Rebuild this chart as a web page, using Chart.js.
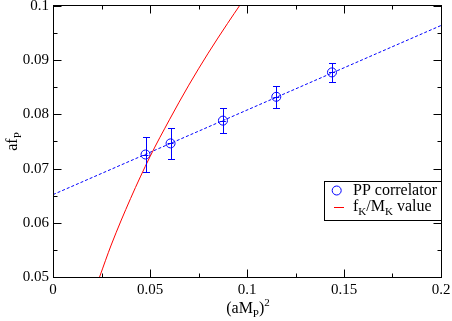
<!DOCTYPE html>
<html>
<head>
<meta charset="utf-8">
<script src="https://cdn.jsdelivr.net/npm/chart.js@4"></script>
<style>
  html, body { margin: 0; padding: 0; background: #fff; }
  canvas { display: block; }
</style>
</head>
<body>
<canvas id="c" width="452" height="321"></canvas>
<script>
// ---- data ----
const pointX = [0.0477, 0.0606, 0.0876, 0.1151, 0.1438];
const pointY = [0.0726, 0.07465, 0.07885, 0.08325, 0.08775];
const pointYErr = [0.0033, 0.00285, 0.00235, 0.00205, 0.00175];
const pointXErr = [0.0015, 0.0015, 0.0015, 0.0015, 0.0015];

const fitX = [0.0, 0.2];
const fitY = [0.0652, 0.0964];

const curveX = [0.024, 0.030, 0.040, 0.050, 0.060, 0.070, 0.080, 0.090, 0.097];
const curveY = [0.0500, 0.0559, 0.0645, 0.0722, 0.0790, 0.0854, 0.0913, 0.0968, 0.1005];

const xTickStep = 0.05, yTickStep = 0.01;
const xRange = [0, 0.2], yRange = [0.05, 0.1];

const legendLabels = ['PP correlator', 'fK/MK value'];
const xTitle = [['(aM', 0], ['P', -1], [')', 0], ['2', 1]];
const yTitle = [['af', 0], ['P', -1]];
const legend2 = [['f', 0], ['K', -1], ['/M', 0], ['K', -1], [' value', 0]];

const FONT = '"Liberation Serif", "Times New Roman", serif';
const BLUE = '#0000ff', RED = '#ff0000';

function fmt(v) { return String(+v.toFixed(4)); }

function richWidth(ctx, parts, size, small) {
  let w = 0;
  for (const [t, s] of parts) {
    ctx.font = (s === 0 ? size : small) + 'px ' + FONT;
    w += ctx.measureText(t).width;
  }
  return w;
}
function drawRich(ctx, parts, x, y, size, small) {
  let cx = x;
  for (const [t, s] of parts) {
    ctx.font = (s === 0 ? size : small) + 'px ' + FONT;
    const dy = s < 0 ? size * 0.28 : (s > 0 ? -size * 0.45 : 0);
    ctx.fillText(t, cx, y + dy);
    cx += ctx.measureText(t).width;
  }
}

const decor = {
  id: 'decor',
  afterDatasetsDraw(chart) {
    const ctx = chart.ctx;
    const xs = chart.scales.x, ys = chart.scales.y;
    const a = chart.chartArea;
    ctx.save();
    // error bars
    ctx.strokeStyle = BLUE; ctx.lineWidth = 1;
    for (let i = 0; i < pointX.length; i++) {
      const px = Math.round(xs.getPixelForValue(pointX[i])) + 0.5;
      const py = ys.getPixelForValue(pointY[i]);
      const t = Math.round(ys.getPixelForValue(pointY[i] + pointYErr[i])) + 0.5;
      const b = Math.round(ys.getPixelForValue(pointY[i] - pointYErr[i])) + 0.5;
      const l = xs.getPixelForValue(pointX[i] - pointXErr[i]);
      const r = xs.getPixelForValue(pointX[i] + pointXErr[i]);
      ctx.beginPath();
      ctx.moveTo(px, t); ctx.lineTo(px, b);
      ctx.moveTo(px - 3.5, t); ctx.lineTo(px + 3.5, t);
      ctx.moveTo(px - 3.5, b); ctx.lineTo(px + 3.5, b);
      ctx.moveTo(l, Math.round(py) + 0.5); ctx.lineTo(r, Math.round(py) + 0.5);
      ctx.stroke();
    }
    // frame
    ctx.strokeStyle = '#000'; ctx.lineWidth = 1;
    const L = a.left + 0.5, R = a.right + 0.5, T = a.top - 0.5, B = a.bottom + 0.5;
    ctx.strokeRect(L, T, R - L, B - T);
    // ticks (major + minor) on all four sides
    ctx.beginPath();
    const xt = xs.ticks.map(t => t.value);
    const yt = ys.ticks.map(t => t.value);
    const xMinor = [], yMinor = [];
    for (let i = 0; i < xt.length - 1; i++) xMinor.push((xt[i] + xt[i + 1]) / 2);
    for (let i = 0; i < yt.length - 1; i++) yMinor.push((yt[i] + yt[i + 1]) / 2);
    function xTick(v, len) {
      const p = Math.round(xs.getPixelForValue(v)) + 0.5;
      ctx.moveTo(p, B); ctx.lineTo(p, B - len);
      ctx.moveTo(p, T); ctx.lineTo(p, T + len);
    }
    function yTick(v, len) {
      const p = Math.round(ys.getPixelForValue(v)) + 0.5;
      ctx.moveTo(L, p); ctx.lineTo(L + len, p);
      ctx.moveTo(R, p); ctx.lineTo(R - len, p);
    }
    xt.forEach(v => xTick(v, 8)); xMinor.forEach(v => xTick(v, 4));
    yt.forEach(v => yTick(v, 8)); yMinor.forEach(v => yTick(v, 4));
    ctx.stroke();

    // axis titles
    ctx.fillStyle = '#000';
    ctx.textBaseline = 'alphabetic';
    const cxT = (a.left + a.right) / 2;
    const w = richWidth(ctx, xTitle, 16, 11);
    drawRich(ctx, xTitle, cxT - w / 2 + 1, 313, 16, 11);
    ctx.save();
    ctx.translate(17, (a.top + a.bottom) / 2);
    ctx.rotate(-Math.PI / 2);
    const wy = richWidth(ctx, yTitle, 16, 11);
    drawRich(ctx, yTitle, -wy / 2, 0, 16, 11);
    ctx.restore();

    // legend
    const lx = 324.5, ly = 181.5, lw = R - lx, lh = 39;
    ctx.fillStyle = '#fff';
    ctx.fillRect(lx, ly, lw, lh);
    ctx.strokeStyle = '#000';
    ctx.strokeRect(lx, ly, lw, lh);
    ctx.strokeStyle = BLUE;
    ctx.beginPath(); ctx.arc(336.7, 190.5, 4.5, 0, Math.PI * 2); ctx.stroke();
    ctx.strokeStyle = RED;
    ctx.beginPath(); ctx.moveTo(334, 207.5); ctx.lineTo(344, 207.5); ctx.stroke();
    ctx.fillStyle = '#000';
    ctx.font = '16px ' + FONT;
    ctx.fillText(legendLabels[0], 353, 195);
    drawRich(ctx, legend2, 353, 211, 16, 11);
    ctx.restore();
  }
};

new Chart(document.getElementById('c'), {
  type: 'scatter',
  data: {
    datasets: [
      {
        label: 'fit',
        data: fitX.map((x, i) => ({ x, y: fitY[i] })),
        showLine: true, borderColor: BLUE, borderWidth: 1, borderDash: [3, 2],
        pointRadius: 0, fill: false
      },
      {
        label: legendLabels[1],
        data: curveX.map((x, i) => ({ x, y: curveY[i] })),
        showLine: true, borderColor: RED, borderWidth: 1,
        cubicInterpolationMode: 'monotone',
        pointRadius: 0, fill: false
      },
      {
        label: legendLabels[0],
        data: pointX.map((x, i) => ({ x, y: pointY[i] })),
        showLine: false, pointStyle: 'circle', pointRadius: 4.5,
        pointBorderColor: BLUE, pointBackgroundColor: 'rgba(0,0,0,0)', pointBorderWidth: 1
      }
    ]
  },
  options: {
    responsive: false,
    animation: false,
    devicePixelRatio: 1,
    layout: { padding: { top: 6, right: 11, left: 0, bottom: 0 } },
    plugins: { legend: { display: false }, tooltip: { enabled: false } },
    scales: {
      x: {
        type: 'linear', min: xRange[0], max: xRange[1],
        grid: { display: false, drawTicks: false },
        border: { display: false },
        ticks: { stepSize: xTickStep, autoSkip: false, maxRotation: 0, padding: 4,
                 color: '#000', font: { family: FONT, size: 15 }, callback: fmt },
        afterFit(s) { s.height = 44; s.paddingLeft = 0; s.paddingRight = 0; }
      },
      y: {
        type: 'linear', min: yRange[0], max: yRange[1],
        grid: { display: false, drawTicks: false },
        border: { display: false },
        ticks: { stepSize: yTickStep, autoSkip: false, padding: 4,
                 color: '#000', font: { family: FONT, size: 15 }, callback: fmt },
        afterFit(s) { s.width = 53; s.paddingTop = 0; s.paddingBottom = 0; }
      }
    }
  },
  plugins: [decor]
});
</script>
</body>
</html>
